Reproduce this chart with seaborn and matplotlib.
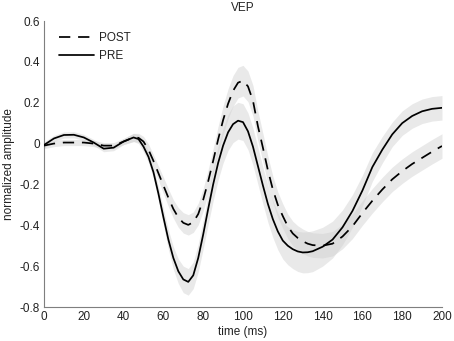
import numpy as np
import pandas as pd
import matplotlib
matplotlib.use("Agg")
import matplotlib.pyplot as plt
import seaborn as sns

# ---- data ----
time_ms = [0, 5, 10, 15, 20, 25, 30, 35, 40,
           45, 47.5, 50, 52.5, 55, 57.5, 60, 62.5, 65, 67.5, 70, 72.5, 75, 77.5, 80,
           82.5, 85, 87.5, 90, 92.5, 95, 97.5, 100, 102.5, 105, 107.5, 110, 112.5, 115,
           117.5, 120, 122.5, 125, 127.5, 130, 132.5, 135,
           140, 145, 150, 155, 160, 165, 170, 175, 180, 185, 190, 195, 200]

pre_mean = [-0.007, 0.025, 0.042, 0.043, 0.030, 0.005, -0.025, -0.020, 0.010,
            0.030, 0.022, -0.015, -0.065, -0.140, -0.245, -0.360, -0.470, -0.560, -0.625,
            -0.665, -0.677, -0.645, -0.560, -0.445,
            -0.320, -0.200, -0.095, -0.010, 0.055, 0.095, 0.112, 0.105, 0.060, -0.015,
            -0.110, -0.205, -0.295, -0.370,
            -0.430, -0.475, -0.500, -0.517, -0.528, -0.533, -0.532, -0.527,
            -0.505, -0.470, -0.410, -0.330, -0.230, -0.115, -0.030, 0.045, 0.100, 0.135,
            0.158, 0.170, 0.175]

post_mean = [-0.010, 0.000, 0.005, 0.005, 0.005, 0.000, -0.010, -0.010, 0.010,
             0.030, 0.028, 0.010, -0.030, -0.085, -0.145, -0.205, -0.265, -0.320, -0.362,
             -0.388, -0.398, -0.385, -0.345, -0.275,
             -0.185, -0.085, 0.020, 0.115, 0.195, 0.258, 0.298, 0.308, 0.280, 0.210,
             0.085, -0.020, -0.130, -0.225,
             -0.300, -0.355, -0.405, -0.440, -0.462, -0.478, -0.490, -0.497,
             -0.500, -0.490, -0.455, -0.405, -0.340, -0.280, -0.225, -0.175, -0.135, -0.100,
             -0.070, -0.040, -0.012]

pre_err = [0.015, 0.015, 0.015, 0.015, 0.015, 0.015, 0.015, 0.015, 0.015,
           0.020, 0.022, 0.025, 0.028, 0.030, 0.035, 0.040, 0.048, 0.055, 0.060,
           0.065, 0.065, 0.065, 0.068, 0.070,
           0.075, 0.080, 0.083, 0.085, 0.088, 0.090, 0.090, 0.090, 0.090, 0.090,
           0.090, 0.090, 0.090, 0.090,
           0.090, 0.090, 0.093, 0.095, 0.098, 0.100, 0.100, 0.100,
           0.095, 0.090, 0.085, 0.080, 0.075, 0.070, 0.065, 0.060, 0.060, 0.060,
           0.060, 0.060, 0.060]

post_err = [0.015, 0.015, 0.015, 0.015, 0.015, 0.015, 0.015, 0.015, 0.015,
            0.020, 0.022, 0.025, 0.028, 0.030, 0.035, 0.040, 0.043, 0.045, 0.048,
            0.050, 0.050, 0.050, 0.053, 0.055,
            0.058, 0.060, 0.065, 0.070, 0.073, 0.075, 0.075, 0.075, 0.075, 0.075,
            0.073, 0.070, 0.068, 0.065,
            0.063, 0.060, 0.060, 0.060, 0.060, 0.060, 0.060, 0.060,
            0.060, 0.060, 0.060, 0.060, 0.060, 0.060, 0.060, 0.060, 0.060, 0.060,
            0.060, 0.060, 0.060]

conditions = ["POST", "PRE"]
title = "VEP"
xlabel = "time (ms)"
ylabel = "normalized amplitude"
xticks = [0, 20, 40, 60, 80, 100, 120, 140, 160, 180, 200]
yticks = [-0.8, -0.6, -0.4, -0.2, 0, 0.2, 0.4, 0.6]
ytick_labels = ["-0.8", "-0.6", "-0.4", "-0.2", "0", "0.2", "0.4", "0.6"]

df = pd.concat([
    pd.DataFrame({"time": time_ms, "amp": post_mean, "err": post_err, "cond": "POST"}),
    pd.DataFrame({"time": time_ms, "amp": pre_mean, "err": pre_err, "cond": "PRE"}),
], ignore_index=True)

sns.set_style("white")
plt.rcParams["font.family"] = ["Liberation Sans", "DejaVu Sans"]

FS = 8.5
TXT = "#222222"

fig = plt.figure(figsize=(4.54, 3.41), dpi=100)
ax = fig.add_axes([44 / 454, 1 - 307 / 341, 398 / 454, 286 / 341])

# shaded error bands
for cond in conditions:
    sub = df[df["cond"] == cond]
    ax.fill_between(sub["time"], sub["amp"] - sub["err"], sub["amp"] + sub["err"],
                    color="#cfcfcf", alpha=0.45, linewidth=0, zorder=1)

sns.lineplot(data=df, x="time", y="amp", style="cond", style_order=conditions,
             dashes={"POST": (6.5, 4.5), "PRE": ""}, color="black", linewidth=1.25,
             ax=ax, zorder=3, legend=True)

ax.set_xlim(0, 200)
ax.set_ylim(-0.8, 0.6)
ax.set_xticks(xticks)
ax.set_yticks(yticks)
ax.set_yticklabels(ytick_labels)
ax.set_xticklabels([str(v) for v in xticks])

for s in ["top", "right"]:
    ax.spines[s].set_visible(False)
for s in ["left", "bottom"]:
    ax.spines[s].set_color("#7f7f7f")
    ax.spines[s].set_linewidth(0.8)

ax.tick_params(direction="in", length=3.5, width=0.8, color="#7f7f7f",
               labelsize=FS, labelcolor=TXT, pad=3)
ax.set_xlabel(xlabel, fontsize=FS, color=TXT, labelpad=2)
ax.set_ylabel(ylabel, fontsize=FS, color=TXT, labelpad=3)
ax.set_title(title, fontsize=FS, color=TXT, pad=7)

leg = ax.legend(loc="upper left", bbox_to_anchor=(0.02, 0.986), frameon=False,
                fontsize=FS, handlelength=3.0, handletextpad=0.35,
                labelspacing=0.5, borderaxespad=0.2)
for t in leg.get_texts():
    t.set_color(TXT)

fig.savefig("out.png", dpi=100)
